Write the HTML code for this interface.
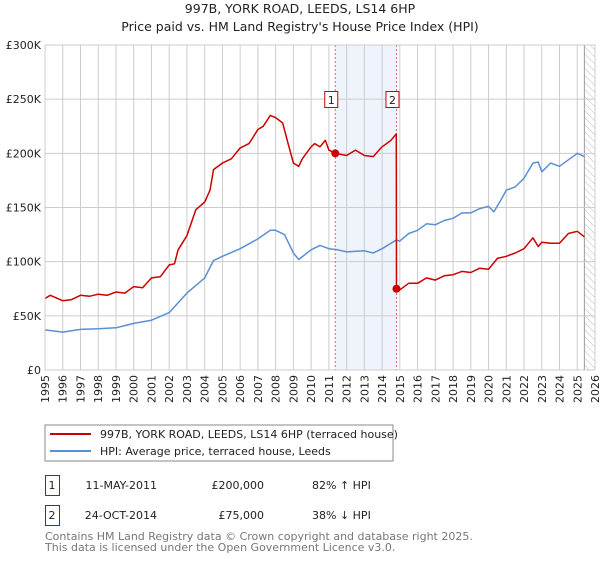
<!DOCTYPE html>
<html><head><meta charset="utf-8"><style>
body{margin:0;background:#fff;font-family:"Liberation Sans","DejaVu Sans",sans-serif}
svg text{font-family:"DejaVu Sans","Liberation Sans",sans-serif}
</style></head><body>
<svg id="c" width="600" height="560" xmlns="http://www.w3.org/2000/svg">
<defs><pattern id="hatch" width="5" height="5" patternUnits="userSpaceOnUse" patternTransform="rotate(-45)"><line x1="0" y1="0" x2="0" y2="5" stroke="#bbb" stroke-width="1"/></pattern></defs>
<text x="300" y="13" text-anchor="middle" font-size="12.5" fill="#222">997B, YORK ROAD, LEEDS, LS14 6HP</text>
<text x="300" y="31" text-anchor="middle" font-size="12.5" fill="#222">Price paid vs. HM Land Registry's House Price Index (HPI)</text>
<g id="plot"></g>
<rect x="45" y="425" width="348" height="36" fill="#fff" stroke="#888"/>
<line x1="50" y1="434" x2="91" y2="434" stroke="#cc0000" stroke-width="2"/>
<text x="100" y="438" font-size="11" fill="#222">997B, YORK ROAD, LEEDS, LS14 6HP (terraced house)</text>
<line x1="50" y1="451" x2="91" y2="451" stroke="#5b8fd4" stroke-width="2"/>
<text x="100" y="455" font-size="11" fill="#222">HPI: Average price, terraced house, Leeds</text>
<g font-size="11" fill="#222">
<rect x="45.5" y="475.5" width="14" height="20" fill="#fff" stroke="#cc0000"/>
<text x="52" y="489" text-anchor="middle">1</text>
<text x="157" y="489" text-anchor="end">11-MAY-2011</text>
<text x="264" y="489" text-anchor="end">£200,000</text>
<text x="312" y="489">82% ↑ HPI</text>
<rect x="45.5" y="505.5" width="14" height="20" fill="#fff" stroke="#cc0000"/>
<text x="52" y="519" text-anchor="middle">2</text>
<text x="157" y="519" text-anchor="end">24-OCT-2014</text>
<text x="264" y="519" text-anchor="end">£75,000</text>
<text x="312" y="519">38% ↓ HPI</text>
</g>
<text x="45" y="540" font-size="11" fill="#777">Contains HM Land Registry data © Crown copyright and database right 2025.</text>
<text x="45" y="551" font-size="11" fill="#777">This data is licensed under the Open Government Licence v3.0.</text>
</svg>
<script>
const hpiYears=[1995,1996,1997,1998,1999,2000,2001,2002,2003,2004,2004.5,2005,2006,2007,2007.7,2008,2008.5,2009,2009.3,2010,2010.5,2011,2011.5,2012,2013,2013.5,2014,2014.8,2015,2015.5,2016,2016.5,2017,2017.5,2018,2018.5,2019,2019.5,2020,2020.3,2020.7,2021,2021.5,2022,2022.5,2022.8,2023,2023.5,2024,2024.5,2025,2025.4];
const hpiValues=[37,35,37.5,38,39,43,46,53,71,85,101,105,112,121,129,129,125,108,102,111,115,112,111,109,110,108,112,120,119,126,129,135,134,138,140,145,145,149,151,146,157,166,169,177,191,192,183,191,188,194,200,197];
const priceYears=[1995,1995.3,1996,1996.5,1997,1997.5,1998,1998.5,1999,1999.5,2000,2000.5,2001,2001.5,2002,2002.3,2002.5,2003,2003.5,2004,2004.3,2004.5,2005,2005.5,2006,2006.5,2007,2007.3,2007.7,2008,2008.4,2008.7,2009,2009.3,2009.5,2010,2010.2,2010.5,2010.8,2011,2011.36,2012,2012.5,2013,2013.5,2014,2014.5,2014.8,2014.81,2015,2015.5,2016,2016.5,2017,2017.5,2018,2018.5,2019,2019.5,2020,2020.5,2021,2021.5,2022,2022.5,2022.8,2023,2023.5,2024,2024.5,2025,2025.4];
const priceValues=[66,69,64,65,69,68,70,69,72,71,77,76,85,86,97,98,111,124,148,155,166,185,191,195,205,209,222,225,235,233,228,209,191,188,195,206,209,206,212,203,200,198,203,198,197,206,212,218,75,74,80,80,85,83,87,88,91,90,94,93,103,105,108,112,122,114,118,117,117,126,128,123];
const saleYears=[2011.36,2014.81];
const saleValues=[200,75];
const saleLabels=["1","2"];
const yTicks=[0,50,100,150,200,250,300];
const yTickLabels=["£0","£50K","£100K","£150K","£200K","£250K","£300K"];
const xTicks=[1995,1996,1997,1998,1999,2000,2001,2002,2003,2004,2005,2006,2007,2008,2009,2010,2011,2012,2013,2014,2015,2016,2017,2018,2019,2020,2021,2022,2023,2024,2025,2026];

const X0=45,X1=595,Y0=370,Y1=45,xmin=1995,xmax=2026,ymax=300;
const xs=v=>X0+(v-xmin)/(xmax-xmin)*(X1-X0);
const ys=v=>Y0-v/ymax*(Y0-Y1);
const NS="http://www.w3.org/2000/svg";
const g=document.getElementById('plot');
function mk(t,a){const e=document.createElementNS(NS,t);for(const k in a)e.setAttribute(k,a[k]);g.appendChild(e);return e;}

let e=mk('rect',{x:xs(saleYears[0]),y:Y1,width:xs(saleYears[1])-xs(saleYears[0]),height:Y0-Y1,fill:'#eef3fc'});


e=mk('rect',{x:xs(2025.4),y:Y1,width:X1-xs(2025.4),height:Y0-Y1,fill:'url(#hatch)'});


mk('line',{x1:xs(2025.4),y1:Y1,x2:xs(2025.4),y2:Y0,stroke:'#999'});

xTicks.forEach(t=>{
  const l=mk('line',{x1:xs(t),y1:Y1,x2:xs(t),y2:Y0,stroke:'#ccc'});
  
  
  const tx=mk('text',{x:0,y:0,'font-size':11,fill:'#222','text-anchor':'end',transform:`translate(${xs(t)+4},${Y0+5}) rotate(-90)`});
  tx.textContent=t;
  
  
});
yTicks.forEach((t,i)=>{
  const l=mk('line',{x1:X0,y1:ys(t),x2:X1,y2:ys(t),stroke:'#ccc'});
  
  
  const tx=mk('text',{x:X0-4,y:ys(t)+4,'font-size':11,fill:'#222','text-anchor':'end'});
  tx.textContent=yTickLabels[i];
  
  
});
saleYears.forEach((s,i)=>{
  const l=mk('line',{x1:xs(s),y1:Y1,x2:xs(s),y2:Y0,stroke:'#e06666','stroke-dasharray':'2,2'});
  
  
});
function path(xa,va,col,name){
  const d=xa.map((x,i)=>(i?'L':'M')+xs(x).toFixed(1)+','+ys(va[i]).toFixed(1)).join('');
  const p=mk('path',{d,fill:'none',stroke:col,'stroke-width':1.5,'stroke-linejoin':'round'});
  
  
}
path(hpiYears,hpiValues,'#5b8fd4','hpi-line');
path(priceYears,priceValues,'#cc0000','price-line');
saleYears.forEach((s,i)=>{
  const c=mk('circle',{cx:xs(s),cy:ys(saleValues[i]),r:4,fill:'#cc0000'});
  
  
  const r=mk('rect',{x:xs(s)-10.5,y:91.5,width:13,height:16,fill:'#fff',stroke:'#cc0000'});
  
  
  const t=mk('text',{x:xs(s)-4,y:104,'font-size':11,fill:'#222','text-anchor':'middle'});
  t.textContent=saleLabels[i];
  
  
});
mk('rect',{x:X0,y:Y1,width:X1-X0,height:Y0-Y1,fill:'none',stroke:'#ccc'});
</script>
</body></html>
